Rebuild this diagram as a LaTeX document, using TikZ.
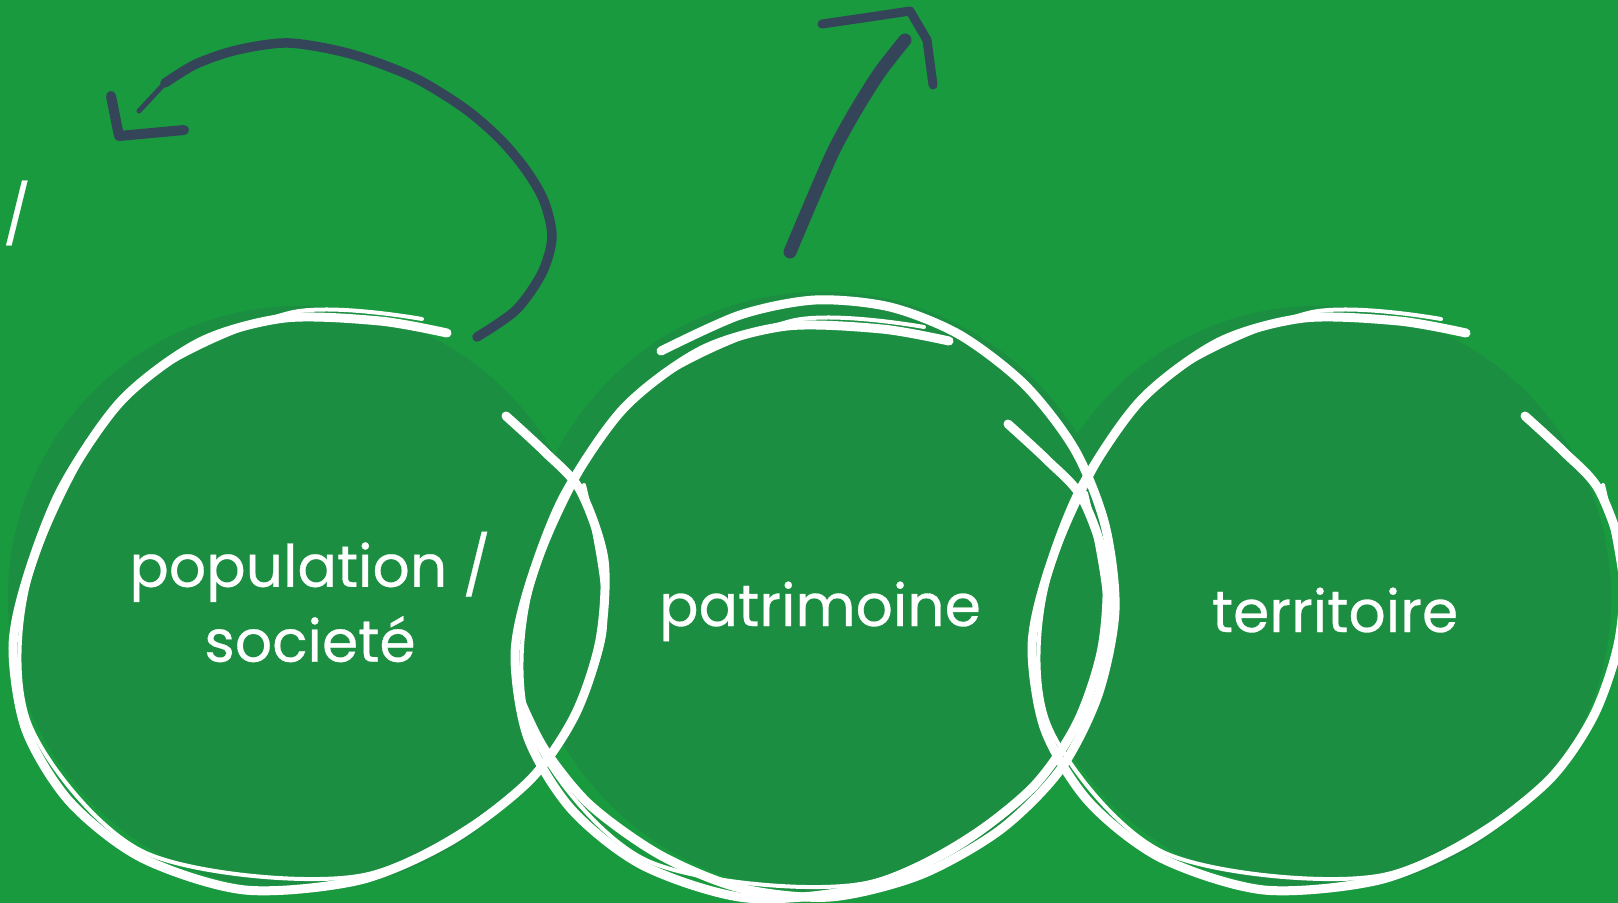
\documentclass[tikz,border=0pt]{standalone}
\usepackage{fontspec}
\setmainfont{Poppins}[FakeBold=0.5]
\usepackage{xcolor}
\definecolor{bggreen}{RGB}{25,154,63}
\definecolor{discgreen}{RGB}{27,142,65}
\definecolor{inkblue}{RGB}{52,69,90}

\begin{document}
\begin{tikzpicture}
    [
        x=0.01cm, y=-0.01cm,
        disc/.style={fill=discgreen},
        brush/.style={white, line width=0.9mm, line cap=round, line join=round},
        brush thin/.style={white, line width=0.4mm, line cap=round},
        ink/.style={inkblue, line cap=round, line join=round},
        word/.style={text=white, font=\fontsize{16.6}{21.3}\selectfont, align=center, inner sep=0pt},
        brushring/.pic={
            \draw[brush] plot[smooth] coordinates {(139,-271) (72,-283) (-23,-286) (-108,-262) (-186,-204) (-246,-116) (-281,-26) (-295,44) (-282,126) (-238,198) (-166,254) (-63,286) (52,276) (144,236) (222,176) (267,111) (292,36) (296,-44) (272,-114) (237,-152) (198,-188)};
            \draw[brush thin, shift={(4,-5)}] plot[smooth] coordinates {(110,-280) (-23,-286) (-186,-204) (-281,-26) (-282,126) (-166,254) (52,276) (222,176) (292,36) (272,-114)};
        }
    ]
    \useasboundingbox (0,0) rectangle (1618,903);
    \fill[bggreen] (0,0) rectangle (1618,903);

    % discs
    \fill[disc] (300,598) circle[radius=2.92cm];
    \fill[disc] (822,592) circle[radius=3cm];
    \fill[disc] (1319,598) circle[radius=2.92cm];

    % outlines
    \pic at (308,604) {brushring};
    \pic at (810,612) {brushring};
    \pic at (1327,604) {brushring};
    \draw[brush] plot[smooth] coordinates {(521,702) (545,750) (590,805) (660,855) (740,888) (830,897) (920,875) (1000,830) (1060,770) (1098,695) (1115,610) (1105,525) (1075,450) (1025,385) (960,335) (890,307) (815,300) (740,315) (661,351)};

    % arrows
    \draw[ink, line width=0.95mm] plot[smooth] coordinates {(477,337) (516,310) (542,273) (552,237) (544,201) (526,170) (500,139) (464,108) (413,77) (351,54) (289,43) (237,50) (196,64) (165,83)};
    \draw[ink, line width=0.5mm] (165,83) -- (139,111);
    \draw[ink, line width=1mm] (111,96) -- (119,136) -- (184,130);
    \draw[ink, line width=1.3mm] plot[smooth] coordinates {(790,252) (812,200) (834,150) (856,110) (880,72) (905,40)};
    \draw[ink, line width=0.9mm] (822,24) -- (870,17) -- (910,11) -- (927,40) -- (933,85);

    % labels
    \node[word] (slash) at (17,213) {/};
    \node[word] (population) at (310,597) {population /\\societé};
    \node[word, anchor=base] (patrimoine) at (820,626) {patrimoine};
    \node[word, anchor=base] (territoire) at (1335,632) {territoire};
\end{tikzpicture}
\end{document}
